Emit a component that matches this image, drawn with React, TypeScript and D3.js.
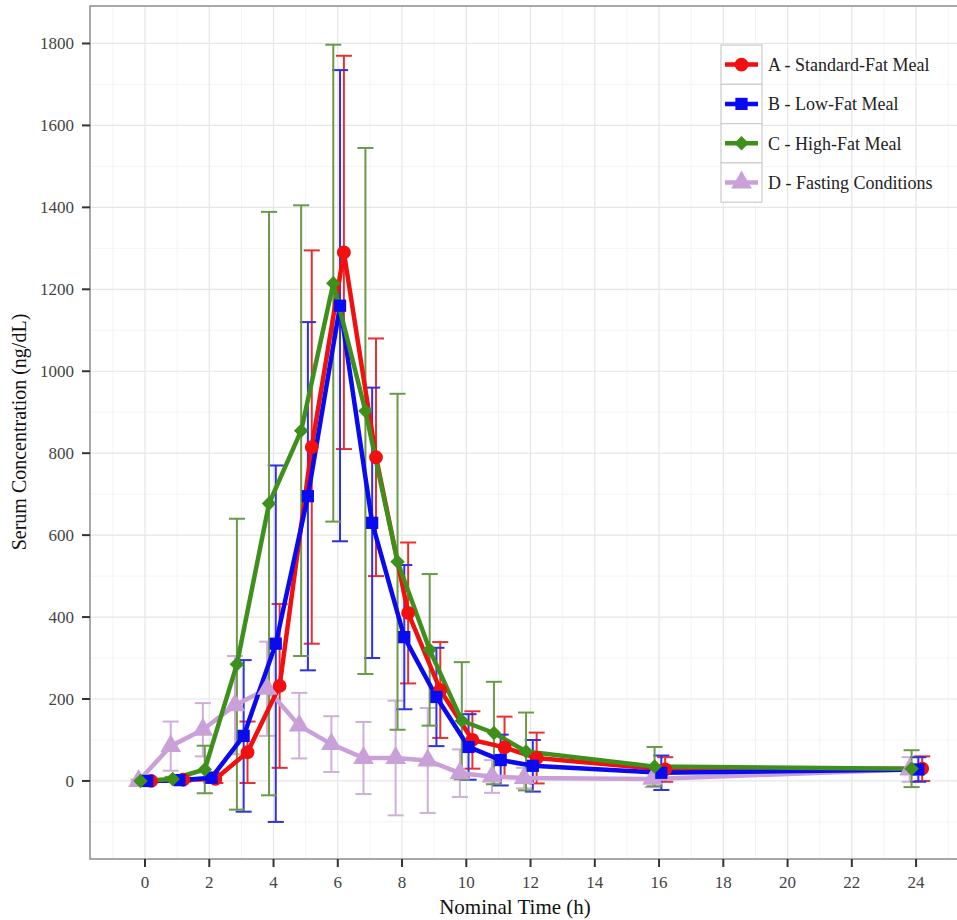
import React from "react";
import * as d3 from "d3";

const times = [0, 1, 2, 3, 4, 5, 6, 7, 8, 9, 10, 11, 12, 16, 24];

const meanA = [0, 3, 5, 70, 232, 815, 1290, 790, 410, 222, 100, 82, 56, 28, 30];
const sdA = [3, 5, 10, 75, 200, 480, 480, 290, 172, 117, 70, 75, 62, 30, 30];

const meanB = [0, 2, 8, 110, 335, 695, 1160, 630, 351, 205, 83, 51, 37, 20, 28];
const sdB = [3, 5, 12, 185, 435, 425, 575, 330, 176, 120, 80, 62, 63, 42, 30];

const meanC = [0, 5, 28, 285, 677, 855, 1215, 903, 535, 320, 147, 117, 72, 35, 30];
const sdC = [3, 5, 58, 355, 712, 550, 582, 642, 410, 185, 143, 125, 95, 48, 45];

const meanD = [0, 85, 125, 185, 225, 135, 90, 56, 56, 50, 19, 11, 7, 5, 28];
const sdD = [3, 60, 65, 120, 115, 80, 68, 88, 140, 128, 58, 40, 25, 20, 30];

const seriesNames = [
  "A - Standard-Fat Meal",
  "B - Low-Fat Meal",
  "C - High-Fat Meal",
  "D - Fasting Conditions",
];

const xTicks = [0, 2, 4, 6, 8, 10, 12, 14, 16, 18, 20, 22, 24];
const yTicks = [0, 200, 400, 600, 800, 1000, 1200, 1400, 1600, 1800];

const colors = ["#f01010", "#0a0af0", "#3f8f1c", "#c9a0d8"];
const errColors = ["#e83030", "#3030e0", "#6a9a48", "#cfaedb"];
const shapes = ["circle", "square", "diamond", "triangle"];
const dodge = [0.19, 0.07, -0.14, -0.2];

const FONT = "'Liberation Serif', 'Times New Roman', serif";

function Marker({ shape, cx, cy, fill }: { shape: string; cx: number; cy: number; fill: string }) {
  let path: string;
  let rot = 0;
  if (shape === "circle") path = d3.symbol(d3.symbolCircle, 150)()!;
  else if (shape === "square") path = d3.symbol(d3.symbolSquare, 150)()!;
  else if (shape === "diamond") {
    path = d3.symbol(d3.symbolSquare, 105)()!;
    rot = 45;
  } else path = d3.symbol(d3.symbolTriangle, 185)()!;
  return <path d={path} transform={`translate(${cx},${cy}) rotate(${rot})`} fill={fill} />;
}

export default function App() {
  const W = 957;
  const H = 920;
  const x = d3.scaleLinear().domain([-1.7, 25.7]).range([90.4, 970.7]);
  const y = d3.scaleLinear().domain([-190, 1890]).range([858.8, 6.6]);
  const left = 90;
  const top = 6;
  const bottom = 859;
  const right = 975;

  const means = [meanA, meanB, meanC, meanD];
  const sds = [sdA, sdB, sdC, sdD];

  const xMinor = d3.range(-1, 26, 2);
  const yMinor = d3.range(-100, 1900, 200);

  const line = d3
    .line<[number, number]>()
    .x((d) => d[0])
    .y((d) => d[1]);

  const drawOrder = [3, 0, 1, 2];
  const capHalf = x(0.25) - x(0);

  return (
    <svg
      width={W}
      height={H}
      style={{ position: "absolute", left: 0, top: 0, display: "block", background: "#fff" }}
      fontFamily={FONT}
    >
      <rect x={0} y={0} width={W} height={H} fill="#fff" />
      <defs>
        <clipPath id="panel">
          <rect x={left} y={top} width={right - left} height={bottom - top} />
        </clipPath>
      </defs>
      {/* grid */}
      <g clipPath="url(#panel)">
        {xMinor.map((t) => (
          <line key={"xm" + t} x1={x(t)} x2={x(t)} y1={top} y2={bottom} stroke="#f4f4f4" strokeWidth={1} />
        ))}
        {yMinor.map((v) => (
          <line key={"ym" + v} x1={left} x2={right} y1={y(v)} y2={y(v)} stroke="#f4f4f4" strokeWidth={1} />
        ))}
        {xTicks.map((t) => (
          <line key={"xg" + t} x1={x(t)} x2={x(t)} y1={top} y2={bottom} stroke="#e6e6e6" strokeWidth={1.2} />
        ))}
        {yTicks.map((v) => (
          <line key={"yg" + v} x1={left} x2={right} y1={y(v)} y2={y(v)} stroke="#e6e6e6" strokeWidth={1.2} />
        ))}
      </g>
      {/* panel border */}
      <path
        d={`M${right},${top}H${left}V${bottom}H${right}`}
        fill="none"
        stroke="#8c8c8c"
        strokeWidth={1.5}
      />
      {/* error bars */}
      <g clipPath="url(#panel)">
        {drawOrder.map((s) =>
          times.map((t, i) => {
            const cx = x(t + dodge[s]);
            const lo = y(means[s][i] - sds[s][i]);
            const hi = y(means[s][i] + sds[s][i]);
            return (
              <g key={`e${s}-${i}`} stroke={errColors[s]} strokeWidth={2} fill="none">
                <line x1={cx} x2={cx} y1={lo} y2={hi} />
                <line x1={cx - capHalf} x2={cx + capHalf} y1={lo} y2={lo} />
                <line x1={cx - capHalf} x2={cx + capHalf} y1={hi} y2={hi} />
              </g>
            );
          })
        )}
      </g>
      {/* lines */}
      {drawOrder.map((s) => (
        <path
          key={"l" + s}
          d={line(times.map((t, i) => [x(t + dodge[s]), y(means[s][i])]))!}
          fill="none"
          stroke={colors[s]}
          strokeWidth={4.5}
          strokeLinejoin="round"
        />
      ))}
      {/* points */}
      {drawOrder.map((s) =>
        times.map((t, i) => (
          <Marker key={`p${s}-${i}`} shape={shapes[s]} cx={x(t + dodge[s])} cy={y(means[s][i])} fill={colors[s]} />
        ))
      )}
      {/* y axis */}
      {yTicks.map((v) => (
        <g key={"yt" + v}>
          <line x1={left - 8} x2={left} y1={y(v)} y2={y(v)} stroke="#333" strokeWidth={2} />
          <text x={left - 16} y={y(v)} dy="0.35em" textAnchor="end" fontSize={17} fill="#444">
            {v}
          </text>
        </g>
      ))}
      {/* x axis */}
      {xTicks.map((t) => (
        <g key={"xt" + t}>
          <line x1={x(t)} x2={x(t)} y1={bottom} y2={bottom + 8} stroke="#333" strokeWidth={2} />
          <text x={x(t)} y={bottom + 29} textAnchor="middle" fontSize={17} fill="#444">
            {t}
          </text>
        </g>
      ))}
      <text x={515} y={914} textAnchor="middle" fontSize={21} fill="#111">
        Nominal Time (h)
      </text>
      <text
        transform={`translate(26,432) rotate(-90)`}
        textAnchor="middle"
        fontSize={20}
        fill="#111"
      >
        Serum Concentration (ng/dL)
      </text>
      {/* legend */}
      <g>
        {seriesNames.map((name, s) => {
          const ky = 45 + s * 39.3;
          const cy = ky + 19.6;
          return (
            <g key={"lg" + s}>
              <rect x={721} y={ky} width={41} height={39.3} fill="#fff" stroke="#cccccc" strokeWidth={1.2} />
              <line x1={725} x2={758} y1={cy} y2={cy} stroke={colors[s]} strokeWidth={4.5} />
              <Marker shape={shapes[s]} cx={741.5} cy={cy} fill={colors[s]} />
              <text x={768} y={cy} dy="0.35em" fontSize={18} fill="#222">
                {name}
              </text>
            </g>
          );
        })}
      </g>
    </svg>
  );
}
